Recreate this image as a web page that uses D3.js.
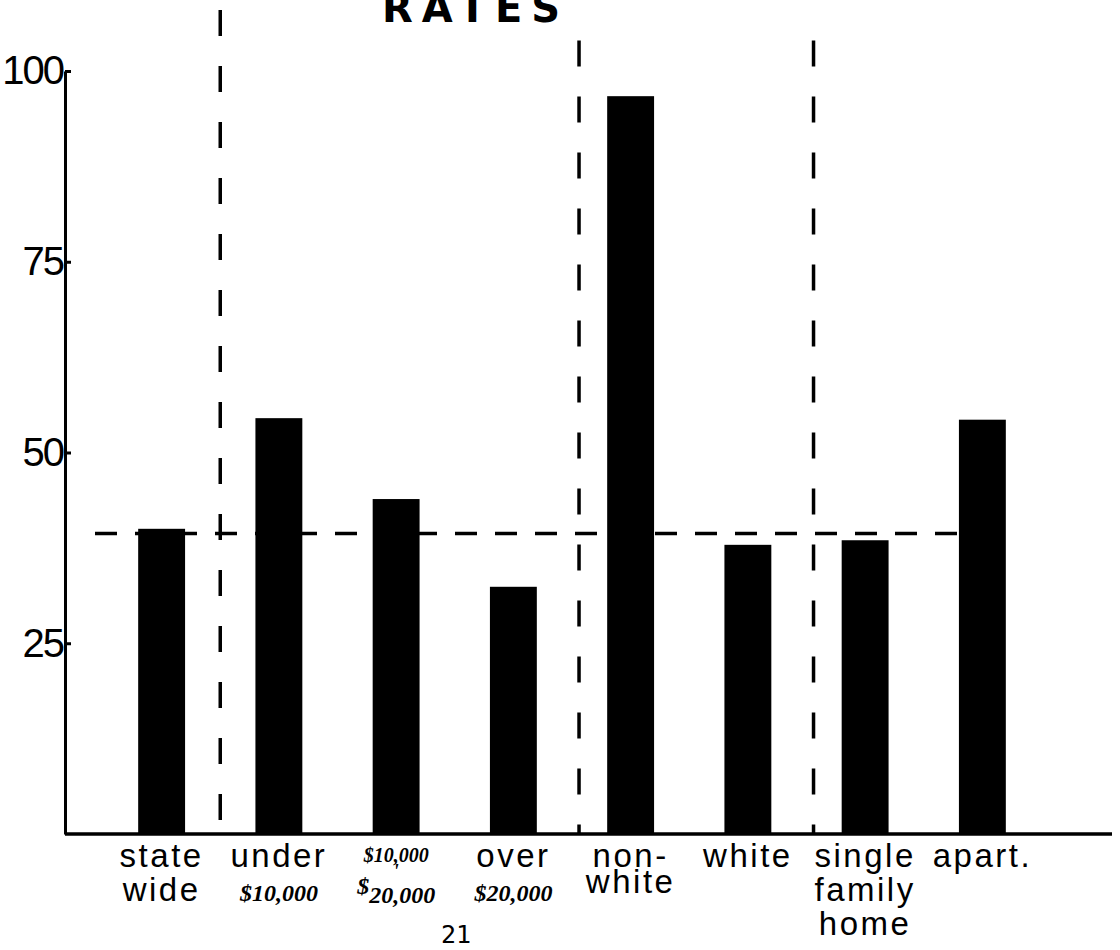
<!DOCTYPE html>
<html>
<head>
<meta charset="utf-8">
<style>
	body { margin: 0; background: #fff; }
	svg { display: block; }
</style>
<script src="https://cdn.jsdelivr.net/npm/d3@7"></script>
</head>
<body>
<svg id="chart"></svg>
<script>
// Data
var categories = ['state wide', 'under $10,000', '$10,000 - $20,000', 'over $20,000', 'non-white', 'white', 'single family home', 'apart.']
var rates = [40.0, 54.5, 43.9, 32.4, 96.7, 37.9, 38.5, 54.3]
var tickLabels = [
	['state', 'wide'],
	['under', '$10,000'],
	['$10,000', "'", '$20,000'],
	['over', '$20,000'],
	['non-', 'white'],
	['white'],
	['single', 'family', 'home'],
	['apart.'],
]
var statewideRate = 39.4
var yTicks = [25, 50, 75, 100]
var groupStarts = ['under $10,000', 'non-white', 'single family home']
var dividerTops = [108, 104, 104]

// Config
var width = 1120,
	height = 950
var axisX = 65,
	axisRight = 1112,
	labelBase = 867,
	lineHeight = 34

var svg = d3.select('#chart').attr('width', width).attr('height', height)

var x = d3.scaleBand().domain(categories).range([103, 1041]).paddingInner(0.6).paddingOuter(0.3)
var y = d3.scaleLinear().domain([0, 100]).range([834, 71])

// title, cut off by the top of the page
svg.append('text')
	.attr('x', 382)
	.attr('y', 22)
	.attr('font-family', 'DejaVu Sans')
	.attr('font-weight', 'bold')
	.attr('font-size', 40)
	.attr('letter-spacing', 9)
	.text('RATES')

// statewide reference line, behind the bars
svg.append('line')
	.attr('x1', axisX + 30)
	.attr('x2', x('apart.'))
	.attr('y1', y(statewideRate))
	.attr('y2', y(statewideRate))
	.attr('stroke', '#000')
	.attr('stroke-width', 3.5)
	.attr('stroke-dasharray', '22,18')

// group dividers, a little nearer the bar that opens each group
svg.selectAll('.divider')
	.data(groupStarts)
	.join('line')
	.attr('class', 'divider')
	.attr('x1', function (d, i) {
		return x(d) - (x.step() - x.bandwidth()) * (i === 0 ? 0.5 : 0.4)
	})
	.attr('x2', function (d, i) {
		return x(d) - (x.step() - x.bandwidth()) * (i === 0 ? 0.5 : 0.4)
	})
	.attr('y1', function (d, i) {
		return y(dividerTops[i])
	})
	.attr('y2', y(0))
	.attr('stroke', '#000')
	.attr('stroke-width', 3.5)
	.attr('stroke-dasharray', '26,30')

// bars
svg.selectAll('.bar')
	.data(rates)
	.join('rect')
	.attr('class', 'bar')
	.attr('x', function (d, i) {
		return x(categories[i])
	})
	.attr('width', x.bandwidth())
	.attr('y', function (d) {
		return y(d)
	})
	.attr('height', function (d) {
		return y(0) - y(d)
	})
	.attr('fill', '#000')

// y axis
var yAxis = svg
	.append('g')
	.attr('transform', 'translate(' + axisX + ',0)')
	.call(d3.axisLeft(y).tickValues(yTicks).tickSize(-6).tickSizeOuter(0).tickPadding(2))

yAxis.select('.domain').attr('stroke-width', 3)
yAxis.selectAll('.tick line').attr('stroke-width', 3)
yAxis.selectAll('.tick text')
	.attr('font-family', 'Liberation Sans')
	.attr('font-size', 40)
	.attr('letter-spacing', -2)
	.attr('fill', '#000')

// x axis line
svg.append('line')
	.attr('x1', axisX)
	.attr('x2', axisRight)
	.attr('y1', y(0))
	.attr('y2', y(0))
	.attr('stroke', '#000')
	.attr('stroke-width', 3.5)

// category labels
var labels = svg
	.selectAll('.label')
	.data(categories)
	.join('g')
	.attr('class', 'label')
	.attr('transform', function (d) {
		return 'translate(' + (x(d) + x.bandwidth() / 2) + ',0)'
	})

labels.each(function (d, i) {
	var g = d3.select(this)
	var lines = tickLabels[i]
	var stacked = lines[0].charAt(0) === '$' // the "$10,000 - $20,000" label is written small
	var offsets = stacked ? [-5, 11, 36] : [0, lineHeight, lineHeight * 2]
	if (d === 'non-white') offsets = [0, 26]

	lines.forEach(function (line, j) {
		var money = line.charAt(0) === '$' || line === "'"
		var t = g
			.append('text')
			.attr('y', labelBase + offsets[j])
			.attr('text-anchor', 'middle')
			.attr('fill', '#000')
		if (money) {
			t.attr('font-family', 'Liberation Serif')
				.attr('font-style', 'italic')
				.attr('font-weight', 'bold')
				.attr('font-size', stacked && j < 2 ? 20 : 24)
			if (stacked && j === 2) {
				t.append('tspan').attr('dy', -9).text('$')
				t.append('tspan').attr('dy', 9).text(line.slice(1))
			} else {
				t.text(line)
			}
		} else {
			t.attr('font-family', 'Liberation Sans').attr('font-size', 33).attr('letter-spacing', 2.5).text(line)
		}
	})
})

// page number
svg.append('text')
	.attr('x', 456)
	.attr('y', 943)
	.attr('text-anchor', 'middle')
	.attr('font-family', 'DejaVu Sans Mono')
	.attr('font-size', 25)
	.text('21')
</script>
</body>
</html>
